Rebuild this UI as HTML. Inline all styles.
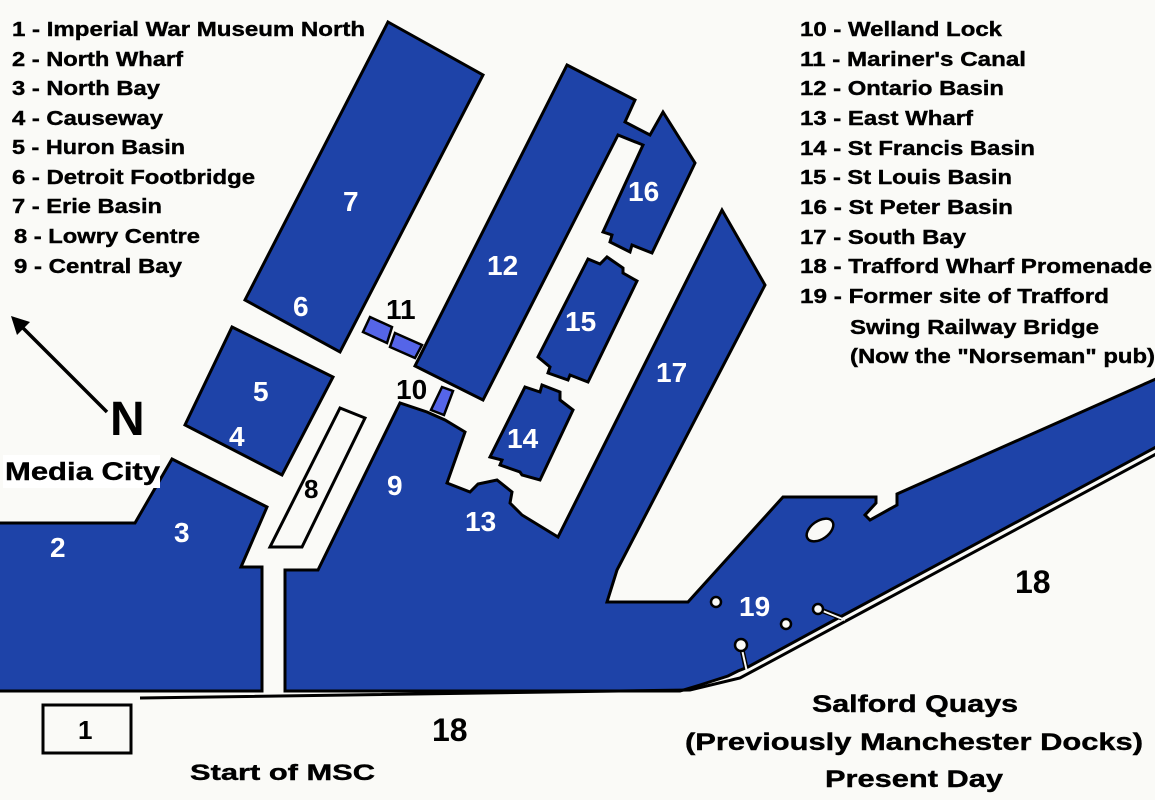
<!DOCTYPE html>
<html><head><meta charset="utf-8"><style>
html,body{margin:0;padding:0;background:#fafaf7;}
svg{display:block;}
text{font-family:"Liberation Sans",Arial,sans-serif;font-weight:bold;}
.l{font-size:20px;fill:#000;stroke:#000;stroke-width:0.4;}
.w{font-size:28px;fill:#fff;}
.b{fill:#1e43a8;stroke:#000;stroke-width:3;stroke-linejoin:miter;}
</style></head><body>
<svg width="1155" height="800" viewBox="0 0 1155 800" xmlns="http://www.w3.org/2000/svg">
<rect width="1155" height="800" fill="#fafaf7"/>
<polygon class="b" points="-5,523 135,523 172,459 267,507 241,567 262,567 262,691 -5,691"/>
<polygon class="b" points="388,22 483,75 340,352 245,300"/>
<polygon class="b" points="232,327 333,377 282,475 185,425"/>
<polygon class="b" points="567,65 635,100 625,122 650,135 663,112 695,163 652,253 632,245 630,252 610,242 612,235 603,232 643,145 618,135 483,400 415,366"/>
<polygon class="b" points="588,259 600,264 607,257 623,268 623,273 637,281 588,382 570,375 568,380 548,373 550,367 538,357"/>
<polygon class="b" points="525,387 540,392 542,385 560,392 560,400 573,410 540,480 522,475 520,472 500,465 502,460 490,457"/>
<polygon class="b" points="285,691 285,570 318,570 400,403 427,412 445,420 465,432 447,483 470,492 478,484 497,480 512,492 510,503 522,515 558,537 722,210 765,285 617,570 607,602 688,602 783,497 876,497 876,503 865,515 870,520 897,505 897,494 1158,378 1158,446 842,616 748,667 738,671 728,676 700,685 680,691"/>
<polyline points="140,698 690,690 740,678 1158,453" fill="none" stroke="#000" stroke-width="3"/>
<polygon points="340,408 365,418 302,547 270,547" fill="#fafaf7" stroke="#000" stroke-width="3"/>
<polygon points="370,317 392,327 387,343 363,332" fill="#5565e8" stroke="#000" stroke-width="2.5"/>
<polygon points="395,333 422,345 415,358 390,347" fill="#5565e8" stroke="#000" stroke-width="2.5"/>
<polygon points="442,387 453,391 444,415 431,410" fill="#5565e8" stroke="#000" stroke-width="2.5"/>
<ellipse cx="820" cy="530" rx="15" ry="9" transform="rotate(-35 820 530)" fill="#fafaf7" stroke="#000" stroke-width="2.5"/>
<circle cx="716" cy="602" r="5" fill="#fafaf7" stroke="#000" stroke-width="2.5"/>
<circle cx="786" cy="624" r="5" fill="#fafaf7" stroke="#000" stroke-width="2.5"/>
<polyline points="818,609 842,618" stroke="#000" stroke-width="5" fill="none"/>
<polyline points="818,609 845,620" stroke="#fafaf7" stroke-width="2" fill="none"/>
<polyline points="741,645 746,668" stroke="#000" stroke-width="5" fill="none"/>
<polyline points="741,645 747,672" stroke="#fafaf7" stroke-width="2" fill="none"/>
<circle cx="818" cy="609" r="5" fill="#fafaf7" stroke="#000" stroke-width="2.5"/>
<circle cx="741" cy="645" r="6" fill="#fafaf7" stroke="#000" stroke-width="2.5"/>
<line x1="107" y1="412" x2="22" y2="327" stroke="#000" stroke-width="3.5"/>
<polygon points="11,316 30,322 17,335" fill="#000"/>
<text x="110" y="435" style="font-size:48px">N</text>
<rect x="43" y="705" width="88" height="48" fill="#fafaf7" stroke="#000" stroke-width="3"/>
<text x="78" y="739" style="font-size:26px">1</text>
<text class="w" x="343" y="211">7</text>
<text class="w" x="293" y="316">6</text>
<text class="w" x="253" y="401">5</text>
<text class="w" x="229" y="446">4</text>
<text class="w" x="50" y="557">2</text>
<text class="w" x="174" y="542">3</text>
<text class="w" x="387" y="495">9</text>
<text class="w" x="465" y="531">13</text>
<text class="w" x="487" y="275">12</text>
<text class="w" x="628" y="201">16</text>
<text class="w" x="565" y="331">15</text>
<text class="w" x="507" y="448">14</text>
<text class="w" x="656" y="382">17</text>
<text class="w" x="739" y="616">19</text>
<text x="304" y="498" style="font-size:26px">8</text>
<text x="386" y="319" style="font-size:28px">11</text>
<text x="396" y="399" style="font-size:28px">10</text>
<text x="432" y="741" style="font-size:32px">18</text>
<text x="1015" y="593" style="font-size:32px">18</text>
<text class="l" x="12" y="36" textLength="353" lengthAdjust="spacingAndGlyphs">1 - Imperial War Museum North</text>
<text class="l" x="12" y="66" textLength="171" lengthAdjust="spacingAndGlyphs">2 - North Wharf</text>
<text class="l" x="12" y="95" textLength="148" lengthAdjust="spacingAndGlyphs">3 - North Bay</text>
<text class="l" x="12" y="125" textLength="151" lengthAdjust="spacingAndGlyphs">4 - Causeway</text>
<text class="l" x="12" y="154" textLength="173" lengthAdjust="spacingAndGlyphs">5 - Huron Basin</text>
<text class="l" x="12" y="184" textLength="243" lengthAdjust="spacingAndGlyphs">6 - Detroit Footbridge</text>
<text class="l" x="12" y="213" textLength="150" lengthAdjust="spacingAndGlyphs">7 - Erie Basin</text>
<text class="l" x="14" y="243" textLength="186" lengthAdjust="spacingAndGlyphs">8 - Lowry Centre</text>
<text class="l" x="14" y="273" textLength="168" lengthAdjust="spacingAndGlyphs">9 - Central Bay</text>
<text class="l" x="800" y="36" textLength="202" lengthAdjust="spacingAndGlyphs">10 - Welland Lock</text>
<text class="l" x="800" y="66" textLength="226" lengthAdjust="spacingAndGlyphs">11 - Mariner's Canal</text>
<text class="l" x="800" y="95" textLength="204" lengthAdjust="spacingAndGlyphs">12 - Ontario Basin</text>
<text class="l" x="800" y="125" textLength="173" lengthAdjust="spacingAndGlyphs">13 - East Wharf</text>
<text class="l" x="800" y="155" textLength="235" lengthAdjust="spacingAndGlyphs">14 - St Francis Basin</text>
<text class="l" x="800" y="184" textLength="212" lengthAdjust="spacingAndGlyphs">15 - St Louis Basin</text>
<text class="l" x="800" y="214" textLength="213" lengthAdjust="spacingAndGlyphs">16 - St Peter Basin</text>
<text class="l" x="800" y="244" textLength="166" lengthAdjust="spacingAndGlyphs">17 - South Bay</text>
<text class="l" x="800" y="273" textLength="352" lengthAdjust="spacingAndGlyphs">18 - Trafford Wharf Promenade</text>
<text class="l" x="800" y="303" textLength="309" lengthAdjust="spacingAndGlyphs">19 - Former site of Trafford</text>
<text class="l" x="850" y="334" textLength="249" lengthAdjust="spacingAndGlyphs">Swing Railway Bridge</text>
<text class="l" x="850" y="363" textLength="305" lengthAdjust="spacingAndGlyphs">(Now the "Norseman" pub)</text>
<rect x="3" y="455" width="157" height="33" fill="#fff"/>
<text x="5" y="480" style="font-size:25px;stroke:#000;stroke-width:0.4" textLength="155" lengthAdjust="spacingAndGlyphs">Media City</text>
<text x="190" y="780" style="font-size:22px;stroke:#000;stroke-width:0.4" textLength="185" lengthAdjust="spacingAndGlyphs">Start of MSC</text>
<text x="812" y="712" style="font-size:24px;stroke:#000;stroke-width:0.4" textLength="206" lengthAdjust="spacingAndGlyphs">Salford Quays</text>
<text x="685" y="750" style="font-size:24px;stroke:#000;stroke-width:0.4" textLength="458" lengthAdjust="spacingAndGlyphs">(Previously Manchester Docks)</text>
<text x="825" y="787" style="font-size:24px;stroke:#000;stroke-width:0.4" textLength="178" lengthAdjust="spacingAndGlyphs">Present Day</text>
</svg>
</body></html>
